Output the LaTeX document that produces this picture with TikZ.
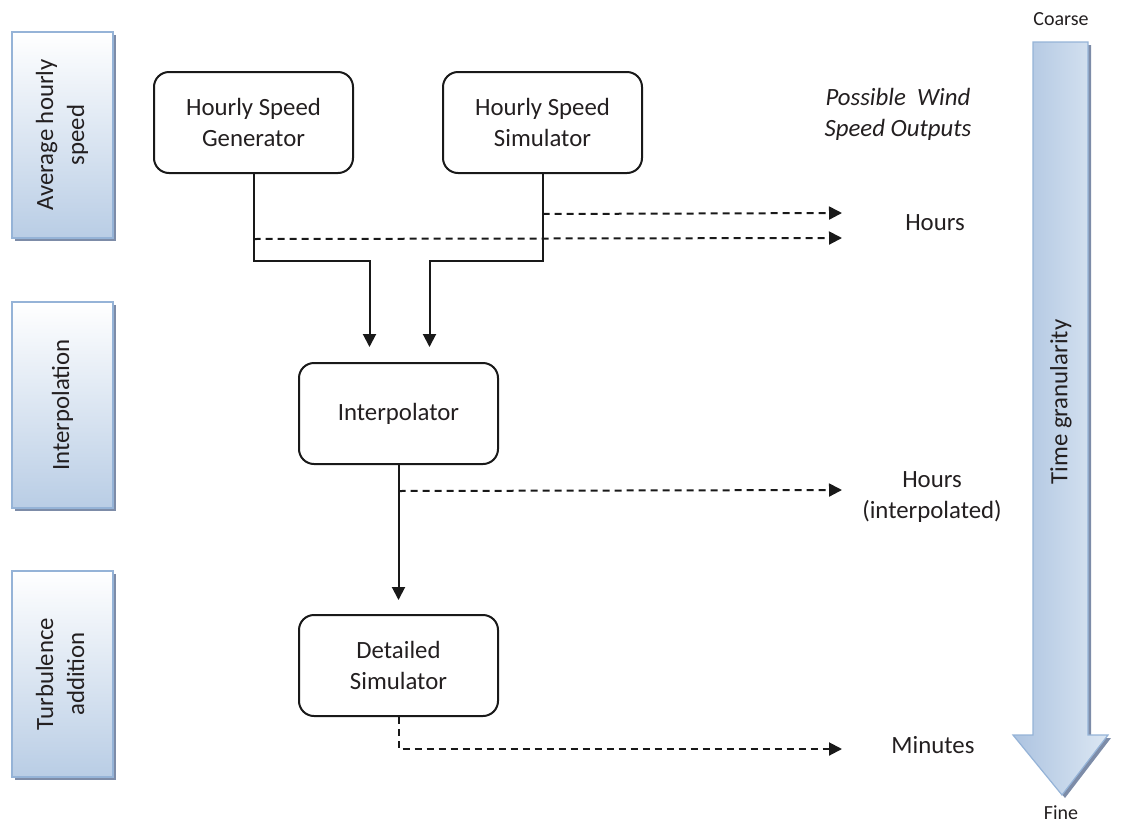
\documentclass[tikz,border=0pt]{standalone}
\usepackage{fontspec}
\setmainfont{Carlito}
\usetikzlibrary{arrows.meta,positioning,shadows}
\definecolor{textgray}{RGB}{35,31,32}
\definecolor{bandblue}{RGB}{185,205,229}
\definecolor{bandline}{RGB}{149,179,215}
\definecolor{bandshadow}{RGB}{125,140,168}
\definecolor{arrowlight}{RGB}{220,231,243}
\definecolor{arrowdark}{RGB}{172,195,224}

\begin{document}
\begin{tikzpicture}[x=1pt,y=-1pt,
        every node/.style={font=\fontsize{24.8}{31}\selectfont, text=textgray},
        block/.style={draw=black!90, rounded corners=15pt, line width=2pt,
            minimum width=199pt, minimum height=101pt, align=center},
        band/.style={draw=bandline, line width=1.5pt, top color=white,
            bottom color=bandblue, minimum width=101pt, minimum height=206pt,
            inner sep=0pt, drop shadow={shadow xshift=3pt, shadow yshift=-3pt,
            fill=bandshadow, opacity=1}},
        flow/.style={draw=black!90, line width=2pt, -{Triangle[length=13pt,width=13pt]}},
        output/.style={flow, dash pattern=on 7pt off 5pt},
        small/.style={font=\fontsize{20}{24}\selectfont}]

        \useasboundingbox (0,0) rectangle (1136,828);

        % stages on the left
        \node[band] (avg) at (62.5,135)
            {\rotatebox{90}{\begin{tabular}{@{}c@{}}Average hourly\\ speed\end{tabular}}};
        \node[band] (intp) at (62.5,405)
            {\rotatebox{90}{Interpolation}};
        \node[band] (turb) at (62.5,674)
            {\rotatebox{90}{\begin{tabular}{@{}c@{}}Turbulence\\ addition\end{tabular}}};

        % time granularity arrow
        \path[draw=bandline, line width=1.2pt, left color=arrowdark, right color=arrowlight,
            drop shadow={shadow xshift=3pt, shadow yshift=-3pt, fill=bandshadow, opacity=1}]
            (1033,42) -- (1088,42) -- (1088,735) -- (1108,735)
            -- (1062,795) -- (1013,735) -- (1033,735) -- cycle;
        \node[small] (coarse) at (1061,19) {Coarse};
        \node[small] (fine) at (1061,813) {Fine};
        \node[rotate=90] (gran) at (1061,402) {Time granularity};

        % blocks
        \node[block] (gen) at (253.5,122.5) {Hourly Speed\\Generator};
        \node[block, right=88pt of gen] (sim) {Hourly Speed\\Simulator};
        \node[block] (interp) at (398.5,413.5) {Interpolator};
        \node[block, below=149pt of interp] (detail) {Detailed\\Simulator};

        \draw[flow, shorten >=15pt] (gen.south) -- ++(0,87)
            -| ([xshift=-29pt]interp.north);
        \draw[flow, shorten >=15pt] (sim.south) -- ++(0,87)
            -| ([xshift=31pt]interp.north);
        \draw[flow, shorten >=14pt] (interp.south) -- (detail.north);

        % outputs
        \coordinate (hrsa) at (842,213);
        \coordinate (hrsb) at (842,238);
        \coordinate (hrsi) at (842,490);
        \coordinate (mins) at (842,749);
        \draw[output] (sim.south) ++(0,40) -- (hrsa);
        \draw[output] (gen.south) ++(0,65) -- (hrsb);
        \draw[output] (interp.south) ++(0,26) -- (hrsi);
        \draw[output] (detail.south) |- (mins);

        \node (hours) at (935,223) {Hours};
        \node[align=center] (hoursi) at (932,497) {Hours\\(interpolated)};
        \node (minutes) at (933,745) {Minutes};
        \node[align=center, font=\fontsize{24.8}{31}\selectfont\itshape] (possible)
            at (898,114) {Possible~ Wind\\Speed Outputs};
\end{tikzpicture}
\end{document}
